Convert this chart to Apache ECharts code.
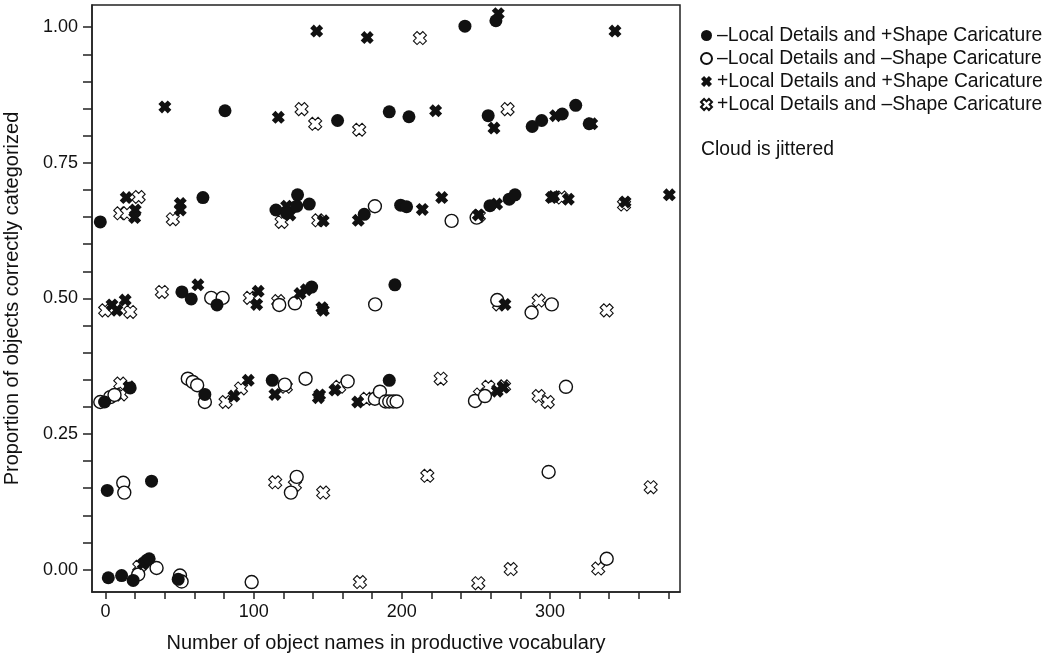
<!DOCTYPE html>
<html>
<head>
<meta charset="utf-8">
<title>Proportion of objects correctly categorized</title>
<script src="https://cdn.jsdelivr.net/npm/echarts@6.0.0/dist/echarts.min.js"></script>
<style>
    html, body { margin: 0; padding: 0; background: #fff; }
    #container { width: 1050px; height: 664px; }
</style>
</head>
<body>
<div id="container"></div>
<script>
// legend names
var seriesNames = [
    '\u2013Local Details and +Shape Caricature',
    '\u2013Local Details and \u2013Shape Caricature',
    '+Local Details and +Shape Caricature',
    '+Local Details and \u2013Shape Caricature'
];

// [vocabulary size, proportion correct] (jittered cloud)
var filledCircle = [
    [242.6, 1.002], [263.5, 1.012],
    [80.6, 0.846], [156.6, 0.828], [191.5, 0.844], [204.8, 0.835], [258.3, 0.837], [288, 0.817],
    [294.4, 0.828], [308.3, 0.840], [317.4, 0.856], [326.5, 0.822],
    [-3.6, 0.641], [65.7, 0.686], [115, 0.663], [122.2, 0.657], [129.6, 0.691], [129, 0.670],
    [137.5, 0.674], [174.6, 0.655], [199.2, 0.672], [203.2, 0.669], [259.5, 0.671], [272.5, 0.683],
    [276.4, 0.691],
    [51.5, 0.512], [57.8, 0.499], [75.2, 0.488], [139.1, 0.521], [195.3, 0.525],
    [-0.7, 0.309], [16.6, 0.335], [67, 0.323], [112.5, 0.349], [191.5, 0.349],
    [1.1, 0.146], [31, 0.163],
    [1.8, -0.015], [10.8, -0.011], [18.6, -0.020], [27.7, 0.017], [29.4, 0.020], [49, -0.018]
];
var openCircle = [
    [181.8, 0.670], [233.6, 0.643], [250.5, 0.649],
    [71.3, 0.501], [79, 0.501], [117.2, 0.488], [127.8, 0.491], [182, 0.489], [264.4, 0.497],
    [287.6, 0.474], [301.2, 0.489],
    [-3.6, 0.309], [3.1, 0.318], [6, 0.322], [55.5, 0.352], [58.8, 0.346], [61.8, 0.340], [67, 0.309],
    [121, 0.341], [135, 0.352], [163.4, 0.347], [181.8, 0.315], [185.2, 0.328], [189, 0.310],
    [191.5, 0.310], [194.2, 0.310], [196.5, 0.310], [249.4, 0.311], [256.1, 0.320], [310.8, 0.337],
    [11.9, 0.160], [12.6, 0.142], [125.1, 0.142], [129, 0.171], [299.1, 0.180],
    [22, -0.009], [34.4, 0.003], [50.2, -0.011], [51.3, -0.022], [98.6, -0.023], [338.3, 0.020]
];
var boldCross = [
    [142.5, 0.993], [176.6, 0.981], [265.1, 1.025], [343.9, 0.993],
    [40, 0.853], [116.6, 0.834], [222.8, 0.846], [262.2, 0.814], [303.8, 0.837], [328.2, 0.822],
    [13.9, 0.686], [20, 0.663], [19.6, 0.649], [50.4, 0.675], [50.4, 0.663], [122.2, 0.670],
    [124.4, 0.654], [146.9, 0.643], [170.6, 0.644], [213.8, 0.664], [226.9, 0.686], [251.6, 0.654],
    [264, 0.674], [301, 0.686], [302.5, 0.688], [312.4, 0.683], [350.7, 0.678], [380.6, 0.691],
    [4.3, 0.488], [7.6, 0.478], [13.2, 0.497], [62.3, 0.525], [102, 0.489], [103, 0.513],
    [131.2, 0.509], [135.5, 0.516], [146, 0.483], [147, 0.478], [269.6, 0.489],
    [15.8, 0.337], [86.6, 0.320], [96.3, 0.349], [114.3, 0.323], [143.6, 0.317], [144.5, 0.322],
    [154.8, 0.331], [170.2, 0.309], [264.4, 0.329], [268.5, 0.336],
    [25.4, 0.011]
];
var lightCross = [
    [212.2, 0.980],
    [132.3, 0.849], [141.5, 0.822], [171.2, 0.811], [271.4, 0.849],
    [22.3, 0.687], [9.9, 0.657], [14.4, 0.657], [45.4, 0.646], [118.8, 0.641], [143.6, 0.644],
    [252, 0.652], [307.9, 0.686], [350, 0.673],
    [-0.3, 0.478], [16.6, 0.475], [38, 0.512], [97.4, 0.501], [116.5, 0.495], [265.6, 0.489],
    [292.4, 0.496], [338.3, 0.478],
    [9.9, 0.343], [10.5, 0.323], [81, 0.309], [91.4, 0.334], [121.7, 0.337], [157.7, 0.337],
    [176.2, 0.315], [226.2, 0.352], [252.7, 0.323], [258.4, 0.337], [269, 0.338], [292.4, 0.320],
    [298.5, 0.309],
    [114.5, 0.161], [127.8, 0.156], [146.9, 0.142], [217.2, 0.173], [368, 0.152],
    [22.7, 0.005], [171.7, -0.023], [251.6, -0.025], [273.5, 0.001], [332.6, 0.002]
];

// axis ticks and labels
var xTicks = [0, 20, 40, 60, 80, 100, 120, 140, 160, 180, 200, 220, 240, 260, 280, 300, 320, 340, 360, 380];
var xLabels = [0, 100, 200, 300];
var yTicks = [0, 0.05, 0.1, 0.15, 0.2, 0.25, 0.3, 0.35, 0.4, 0.45, 0.5, 0.55, 0.6, 0.65, 0.7, 0.75, 0.8, 0.85, 0.9, 0.95, 1];
var yLabels = [0, 0.25, 0.5, 0.75, 1];

function mergeInto(target, src) {
    for (var k in src) {
        target[k] = src[k];
    }
    return target;
}

function createChart() {
    var dom = document.getElementById('container');
    var myChart = echarts.init(dom, null, {renderer: 'canvas'});
    var font = 'Liberation Sans, Arial, sans-serif';
    var ink = '#111';
    var crossPath = 'path://M0,2.8L2.8,0L5,2.2L7.2,0L10,2.8L7.8,5L10,7.2L7.2,10L5,7.8L2.8,10L0,7.2L2.2,5Z';

    var axisCommon = function () {
        return {
            type: 'value',
            axisLine: {show: true, onZero: false, lineStyle: {color: '#222', width: 1.5}},
            splitLine: {show: false},
            nameTextStyle: {fontFamily: font, fontSize: 20, color: ink}
        };
    };

    var option = {
        backgroundColor: '#fff',
        animation: false,
        grid: {
            left: 92, top: 5, right: 370, bottom: 72,
            outerBoundsMode: 'none',
            containLabel: false,
            show: true, borderColor: '#222', borderWidth: 1.5, backgroundColor: 'transparent'
        },
        legend: {
            orient: 'vertical',
            left: 700, top: 26,
            padding: 0,
            itemWidth: 11, itemHeight: 11, itemGap: 4,
            selectedMode: false,
            textStyle: {fontFamily: font, fontSize: 19.3, color: ink, lineHeight: 19},
            data: seriesNames
        },
        graphic: [{
            type: 'text',
            left: 701, top: 140,
            style: {text: 'Cloud is jittered', fontFamily: font, fontSize: 19.3, fill: ink}
        }],
        xAxis: mergeInto(axisCommon(), {
            min: -9.2, max: 387.8,
            name: 'Number of object names in productive vocabulary',
            nameLocation: 'middle', nameGap: 41,
            axisTick: {show: true, length: 7, customValues: xTicks, lineStyle: {color: '#222', width: 1.5}},
            axisLabel: {customValues: xLabels, margin: 11, fontFamily: font, fontSize: 18, color: ink}
        }),
        yAxis: mergeInto(axisCommon(), {
            min: -0.0413, max: 1.041,
            name: 'Proportion of objects correctly categorized',
            nameLocation: 'middle', nameGap: 70,
            axisTick: {show: true, length: 9, customValues: yTicks, lineStyle: {color: '#222', width: 1.5}},
            axisLabel: {
                customValues: yLabels, margin: 14, fontFamily: font, fontSize: 18, color: ink,
                formatter: function (v) { return v.toFixed(2); }
            }
        }),
        series: [
            {
                name: seriesNames[3], type: 'scatter', data: lightCross,
                symbol: crossPath, symbolSize: 13, silent: true,
                itemStyle: {color: '#fff', borderColor: ink, borderWidth: 1.1, opacity: 1}
            },
            {
                name: seriesNames[1], type: 'scatter', data: openCircle,
                symbol: 'circle', symbolSize: 13, silent: true,
                itemStyle: {color: '#fff', borderColor: ink, borderWidth: 1.4, opacity: 1}
            },
            {
                name: seriesNames[2], type: 'scatter', data: boldCross,
                symbol: crossPath, symbolSize: 13, silent: true,
                itemStyle: {color: ink, opacity: 1}
            },
            {
                name: seriesNames[0], type: 'scatter', data: filledCircle,
                symbol: 'circle', symbolSize: 13, silent: true,
                itemStyle: {color: ink, opacity: 1}
            }
        ]
    };
    myChart.setOption(option, true);
}

createChart();
</script>
</body>
</html>
